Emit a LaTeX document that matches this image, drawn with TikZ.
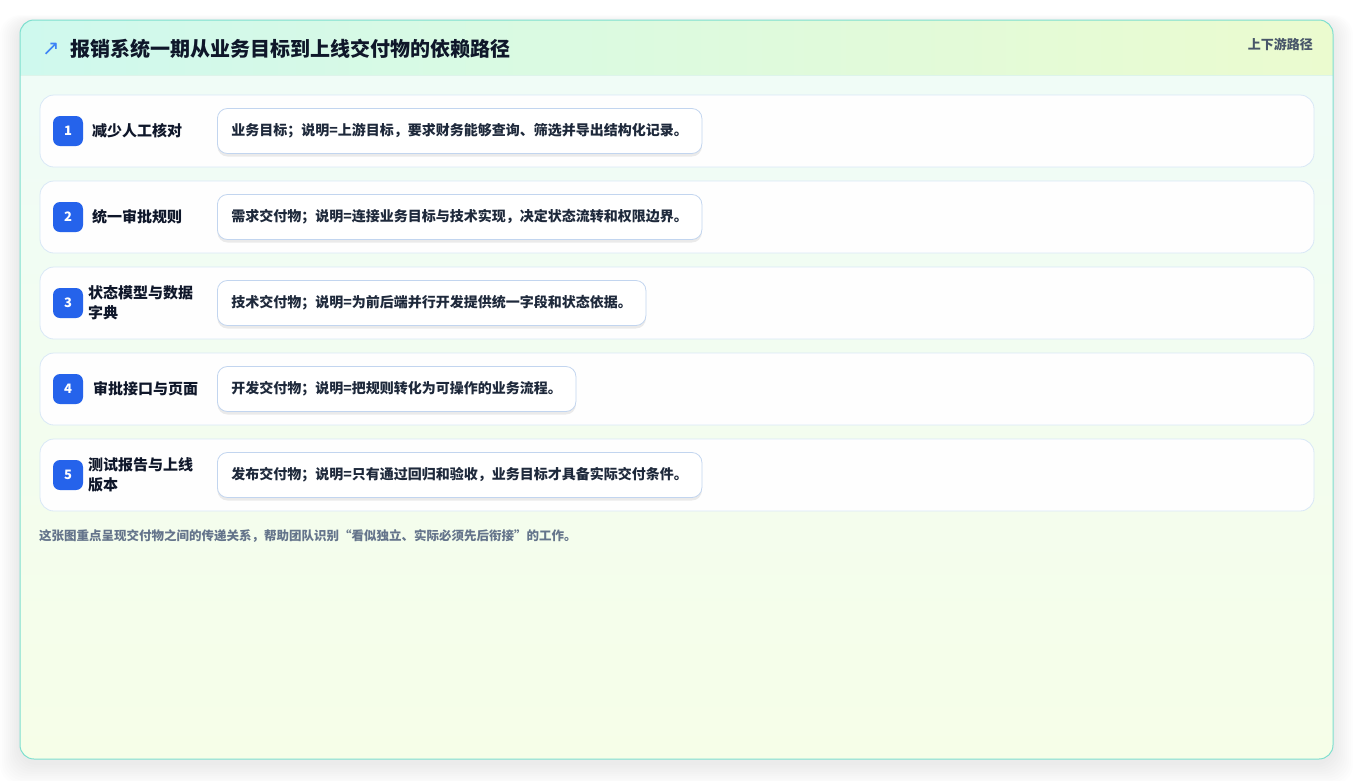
\documentclass[tikz,border=0pt]{standalone}
\usepackage{fontspec}
\setmainfont{Noto Sans CJK SC}
\newfontfamily\dejavu{DejaVu Sans}
\usetikzlibrary{shadows}
\definecolor{cardtop}{HTML}{EFFCF8}
\definecolor{cardbot}{HTML}{F6FEE8}
\definecolor{headL}{HTML}{CFF9EE}
\definecolor{headR}{HTML}{EBFBCF}
\definecolor{headline}{HTML}{DDF4EA}
\definecolor{cardborder}{HTML}{7EDFCF}
\definecolor{rowborder}{HTML}{D9E8F6}
\definecolor{descborder}{HTML}{C2D5EF}
\definecolor{badgeblue}{HTML}{2563EB}
\definecolor{titletext}{HTML}{0F172A}
\definecolor{desctext}{HTML}{1E293B}
\definecolor{foottext}{HTML}{64748B}
\definecolor{tagtext}{HTML}{475569}
\definecolor{iconblue}{HTML}{3B82F6}
\tikzset{
  rowbox/.style={draw=rowborder, line width=0.8pt, fill=white, fill opacity=0.95, rounded corners=14pt, minimum width=1274pt, minimum height=72pt, inner sep=0pt},
  badge/.style={fill=badgeblue, rounded corners=7pt, minimum size=30pt, inner sep=0pt, text=white, font=\fontsize{13}{14}\selectfont\bfseries},
  lab/.style={anchor=west, inner sep=0pt, align=left, text=titletext, font=\fontsize{15}{20}\selectfont\bfseries},
  desc/.style={anchor=west, draw=descborder, line width=0.8pt, fill=white, rounded corners=10pt, minimum height=45pt, inner xsep=14pt, inner ysep=0pt, text=desctext, font=\fontsize{14}{18}\selectfont\bfseries, drop shadow={shadow xshift=0pt, shadow yshift=-3pt, opacity=0.08, fill=black}},
}
\begin{document}
\begin{tikzpicture}[x=1pt,y=-1pt]
\useasboundingbox (0,0) rectangle (1354,780);
\fill[white] (0,0) rectangle (1354,780);
% card shadow
\foreach \k in {1,...,10}{
  \fill[black, opacity=0.009, rounded corners=20pt] (20-\k*2.0, 20-\k*0.8+3) rectangle (1333+\k*2.0, 759+\k*2.2+4);
}
\begin{scope}
  \clip[rounded corners=14pt] (20,20) rectangle (1333,759);
  \shade[top color=cardtop, bottom color=cardbot] (20,20) rectangle (1333,759);
  \shade[left color=headL, right color=headR] (20,20) rectangle (1333,75);
  \draw[headline, line width=0.8pt] (20,75.5) -- (1333,75.5);
\end{scope}
\draw[cardborder, line width=1pt, rounded corners=14pt] (20,20) rectangle (1333,759);

% header
\node[text=iconblue, inner sep=0pt, font=\dejavu\fontsize{21}{22}\selectfont] (icon) at (51,49) {↗};
\node[anchor=west, inner sep=0pt, text=titletext, font=\fontsize{20}{22}\selectfont\bfseries] (title) at (70,49) {报销系统一期从业务目标到上线交付物的依赖路径};
\node[anchor=east, inner sep=0pt, text=tagtext, font=\fontsize{13}{14}\selectfont\bfseries] (tag) at (1313,44) {上下游路径};

% rows
\node[rowbox] (r1) at (677,131) {};
\node[rowbox] (r2) at (677,217) {};
\node[rowbox] (r3) at (677,303) {};
\node[rowbox] (r4) at (677,389) {};
\node[rowbox] (r5) at (677,475) {};

\node[badge] (b1) at (68,131) {1};
\node[badge] (b2) at (68,217) {2};
\node[badge] (b3) at (68,303) {3};
\node[badge] (b4) at (68,389) {4};
\node[badge] (b5) at (68,475) {5};

\node[lab] (l1) at (92,131) {减少人工核对};
\node[lab] (l2) at (92,217) {统一审批规则};
\node[lab] (l3) at (88,303) {状态模型与数据\\字典};
\node[lab] (l4) at (93,389) {审批接口与页面};
\node[lab] (l5) at (88,475) {测试报告与上线\\版本};

\node[desc] (d1) at (217,131) {业务目标；说明=上游目标，要求财务能够查询、筛选并导出结构化记录。};
\node[desc] (d2) at (217,217) {需求交付物；说明=连接业务目标与技术实现，决定状态流转和权限边界。};
\node[desc] (d3) at (217,303) {技术交付物；说明=为前后端并行开发提供统一字段和状态依据。};
\node[desc] (d4) at (217,389) {开发交付物；说明=把规则转化为可操作的业务流程。};
\node[desc] (d5) at (217,475) {发布交付物；说明=只有通过回归和验收，业务目标才具备实际交付条件。};

% footer
\node[anchor=west, inner sep=0pt, text=foottext, font=\fontsize{12.5}{14}\selectfont\bfseries] (foot) at (39,536) {这张图重点呈现交付物之间的传递关系，帮助团队识别“看似独立、实际必须先后衔接”的工作。};
\end{tikzpicture}
\end{document}
